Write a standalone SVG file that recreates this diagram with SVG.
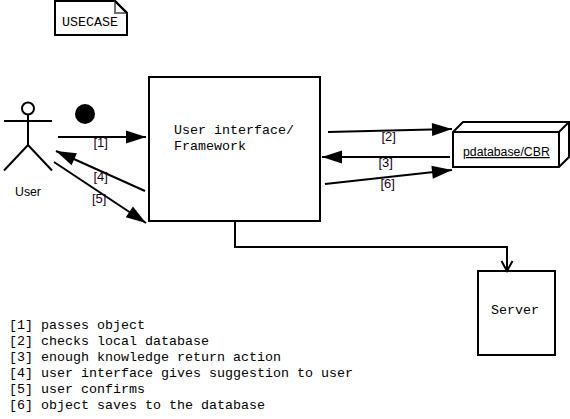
<svg xmlns="http://www.w3.org/2000/svg" width="570" height="419" viewBox="0 0 570 419">
<style>
.s{fill:#fff;stroke:#000;stroke-width:2}
.l{fill:none;stroke:#000;stroke-width:2}
.c{fill:none;stroke:#000;stroke-width:2}
.m{font-family:"Liberation Mono",monospace;font-size:13.33px;fill:#000}
.t{font-family:"Liberation Sans",sans-serif;font-size:12.3px;fill:#000}
.lab{font-family:"Liberation Sans",sans-serif;font-size:13px;fill:#200020}
</style>
<defs>
<marker id="a" markerUnits="userSpaceOnUse" markerWidth="22" markerHeight="14" refX="20" refY="6.5" orient="auto" overflow="visible"><path d="M0 0L20 6.5L0 13Z" fill="#000"/></marker>
<marker id="o" markerUnits="userSpaceOnUse" markerWidth="14" markerHeight="14" refX="10" refY="5.5" orient="auto" overflow="visible"><path d="M0 0L10 5.5L0 11" fill="none" stroke="#000" stroke-width="2"/></marker>
</defs>
<rect width="570" height="419" fill="#fff"/>
<g id="usecase">
<path class="s" d="M55 1H115L127 13V35H55Z"/>
<path d="M115 1V13H127" style="fill:none;stroke:#707070;stroke-width:2"/>
<path d="M115 1L127 13" class="l"/>
<text class="m" x="62" y="26">USECASE</text>
</g>
<g id="user">
<circle class="l" cx="28" cy="108.500" r="6"/>
<path class="l" d="M28 114V145M4 121H52M4 170.500L28 145L52 170.500"/>
<text class="t" x="15" y="196">User</text>
</g>
<g id="start"><circle cx="85" cy="114" r="10" fill="#000"/></g>
<g id="ui">
<rect class="s" x="149" y="77" width="171" height="144"/>
<text class="m" x="174" y="134">User interface/</text>
<text class="m" x="174" y="150">Framework</text>
</g>
<g id="database">
<path class="s" d="M453 132L463 122H569V157L559 167H453Z"/>
<path class="l" d="M453 132H559V167M559 132L569 122"/>
<text class="t" x="463" y="156" text-decoration="underline">pdatabase/CBR</text>
</g>
<g id="server">
<rect class="s" x="478" y="271" width="77" height="84"/>
<text class="m" x="491" y="314">Server</text>
</g>
<g id="connectors">
<path class="c" d="M58 137H146" marker-end="url(#a)"/>
<path class="c" d="M145 191L56 151" marker-end="url(#a)"/>
<path class="c" d="M54 162L146 223" marker-end="url(#a)"/>
<path class="c" d="M328 132L452 129" marker-end="url(#a)"/>
<path class="c" d="M450 157H322" marker-end="url(#a)"/>
<path class="c" d="M325 184L452 170" marker-end="url(#a)"/>
<path class="c" d="M235 221V247H507V271" marker-end="url(#o)"/>
</g>
<g id="labels">
<text class="lab" x="93.500" y="147">[1]</text>
<text class="lab" x="93.500" y="181">[4]</text>
<text class="lab" x="92" y="203">[5]</text>
<text class="lab" x="381.500" y="141">[2]</text>
<text class="lab" x="378.500" y="167">[3]</text>
<text class="lab" x="380.500" y="188">[6]</text>
</g>
<g id="legend">
<text class="m" x="9" y="329">[1] passes object</text>
<text class="m" x="9" y="345">[2] checks local database</text>
<text class="m" x="9" y="361">[3] enough knowledge return action</text>
<text class="m" x="9" y="377">[4] user interface gives suggestion to user</text>
<text class="m" x="9" y="393">[5] user confirms</text>
<text class="m" x="9" y="409">[6] object saves to the database</text>
</g>
</svg>
